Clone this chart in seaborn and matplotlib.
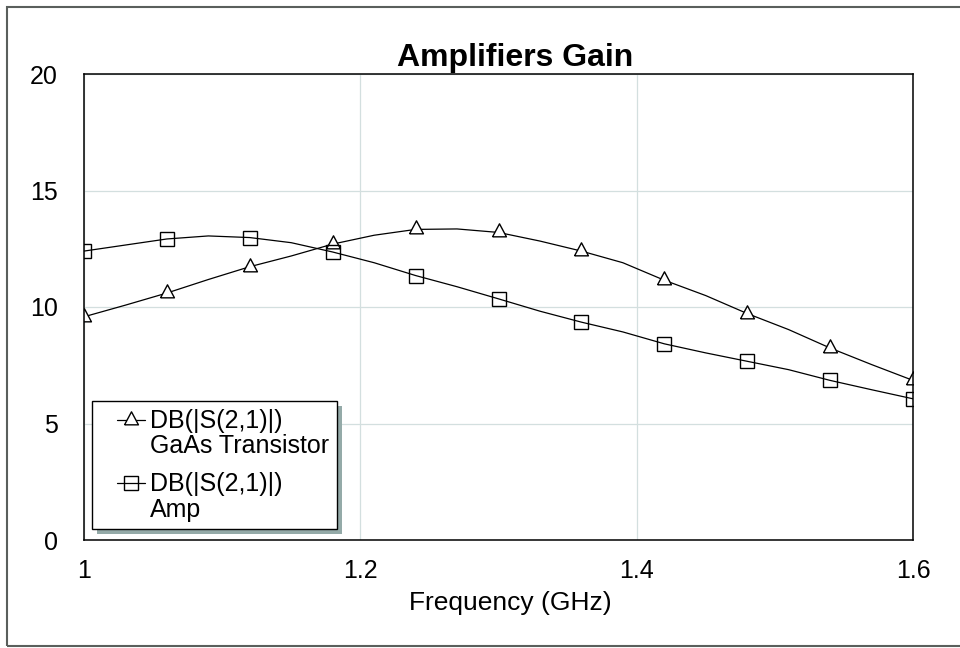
import matplotlib
matplotlib.use("Agg")
import matplotlib.pyplot as plt
import seaborn as sns
from matplotlib.lines import Line2D
from matplotlib.legend_handler import HandlerBase
from matplotlib.patches import Rectangle
from matplotlib.transforms import IdentityTransform

# ---- data ----
freq = [1.00, 1.03, 1.06, 1.09, 1.12, 1.15, 1.18, 1.21, 1.24, 1.27, 1.30,
        1.33, 1.36, 1.39, 1.42, 1.45, 1.48, 1.51, 1.54, 1.57, 1.60]
gaas_gain = [9.58, 10.08, 10.60, 11.18, 11.73, 12.19, 12.70, 13.08, 13.33, 13.35, 13.20,
             12.83, 12.40, 11.90, 11.15, 10.49, 9.72, 9.03, 8.24, 7.53, 6.85]
amp_gain = [12.40, 12.66, 12.92, 13.05, 12.98, 12.76, 12.36, 11.90, 11.35, 10.87, 10.35,
            9.82, 9.35, 8.93, 8.42, 8.03, 7.67, 7.31, 6.85, 6.45, 6.06]
series_labels = ["DB(|S(2,1)|)\nGaAs Transistor", "DB(|S(2,1)|)\nAmp"]
x_ticks = [1.0, 1.2, 1.4, 1.6]
x_tick_labels = ["1", "1.2", "1.4", "1.6"]
y_ticks = [0, 5, 10, 15, 20]
y_tick_labels = ["0", "5", "10", "15", "20"]
title_text = "Amplifiers Gain"
xlabel_text = "Frequency (GHz)"

sns.set_theme(style="white")
plt.rcParams["font.family"] = ["Liberation Sans", "DejaVu Sans"]

W, H = 960, 648
fig = plt.figure(figsize=(9.6, 6.48), dpi=100)
ax = fig.add_axes([84 / W, 1 - 540 / H, 829 / W, 466 / H])

# triangle with its centroid at the data point
TRI = [(-0.8, -0.5), (0.8, -0.5), (0.0, 1.0), (-0.8, -0.5)]

sns.lineplot(x=freq, y=gaas_gain, ax=ax, color="black", lw=0.9,
             marker=TRI, markevery=2, ms=12.5, mfc="white", mec="black", mew=1.0,
             legend=False)
sns.lineplot(x=freq, y=amp_gain, ax=ax, color="black", lw=0.9,
             marker="s", markevery=2, ms=10.3, mfc="none", mec="black", mew=1.0,
             legend=False)

ax.set_xlim(1.0, 1.6)
ax.set_ylim(0, 20)
ax.set_xticks(x_ticks)
ax.set_xticklabels(x_tick_labels)
ax.set_yticks(y_ticks)
ax.set_yticklabels(y_tick_labels)
ax.tick_params(length=0, labelsize=18, colors="black")
ax.tick_params(axis="y", pad=19)
ax.tick_params(axis="x", pad=14)
ax.grid(True, color="#d3dfdf", lw=0.9)
ax.set_axisbelow(True)
for s in ax.spines.values():
    s.set_color("black")
    s.set_linewidth(1.1)
ax.set_xlabel(xlabel_text, fontsize=19, color="black")
ax.xaxis.set_label_coords((510 - 84) / 829, -0.11)
ax.set_ylabel("")

fig.text(515 / W, 1 - 66 / H, title_text, ha="center", va="baseline",
         fontsize=23, fontweight="bold", color="black")


class TopHandler(HandlerBase):
    def __init__(self, dy, seglen, **kw):
        super().__init__(**kw)
        self.dy = dy
        self.seglen = seglen

    def create_artists(self, legend, orig_handle, xdescent, ydescent,
                       width, height, fontsize, trans):
        x1 = width - xdescent
        x0 = x1 - self.seglen
        y = (height - ydescent) / 2 + self.dy
        ln = Line2D([x0, x1], [y, y], color="black", lw=0.9)
        mk = Line2D([(x0 + x1) / 2], [y], ls="none",
                    marker=orig_handle.get_marker(),
                    ms=orig_handle.get_markersize(),
                    mfc=orig_handle.get_markerfacecolor(),
                    mec="black", mew=1.0)
        ln.set_transform(trans)
        mk.set_transform(trans)
        return [ln, mk]


lines = ax.get_lines()[:2]
hmap = {l: TopHandler(dy=10.5, seglen=20) for l in lines}
leg = ax.legend(lines, series_labels, handler_map=hmap,
                loc="lower left", bbox_to_anchor=((92 - 84) / 829, (540 - 529) / 466),
                borderaxespad=0, fontsize=18, frameon=True, fancybox=False,
                framealpha=1, edgecolor="black", borderpad=0.3,
                handlelength=1.82, handletextpad=0.2, labelspacing=0.55)
leg.get_frame().set_linewidth(1.0)
leg.set_zorder(6)
for t in leg.get_texts():
    t.set_linespacing(1.08)
    t.set_color("black")

fig.canvas.draw()
bb = leg.get_window_extent()
shadow = Rectangle((bb.x0 + 5, bb.y0 - 5), bb.width, bb.height,
                   transform=IdentityTransform(), facecolor="#94aaa8",
                   edgecolor="none", zorder=5.5, clip_on=False)
ax.add_artist(shadow)

# outer frame
frame = Rectangle((7 / W, 1 - 646 / H), 1.2, (646 - 7) / H, transform=fig.transFigure,
                  fill=False, edgecolor="#5a5f5c", lw=1.5, clip_on=False)
fig.patches.append(frame)

fig.savefig("out.png", dpi=100, facecolor="white")
